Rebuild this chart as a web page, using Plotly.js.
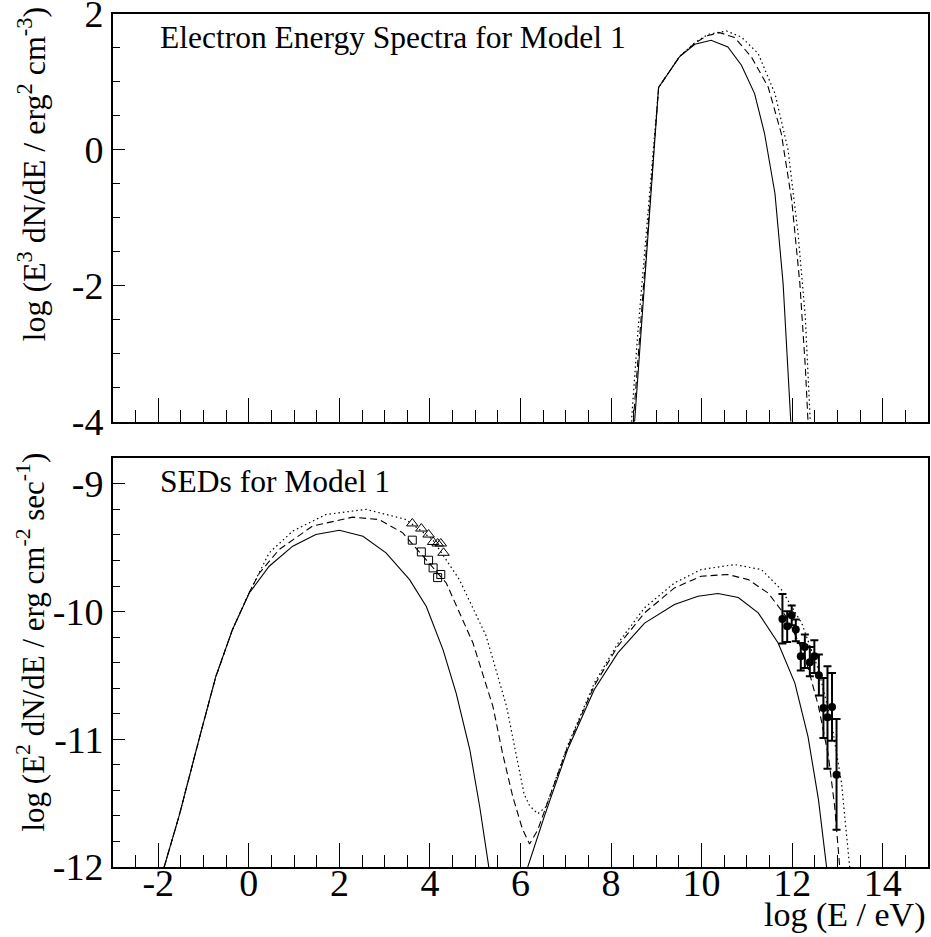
<!DOCTYPE html>
<html>
<head>
<meta charset="utf-8">
<script src="https://cdn.plot.ly/plotly-3.0.1.min.js"></script>
<style>html,body{margin:0;padding:0;background:#fff;}#chart{width:931px;height:937px;}</style>
</head>
<body>
<div id="chart"></div>
<script>
// ---------- Top panel: electron energy spectra (log E / eV, log E^3 dN/dE) ----------
const eSolidX  = [8.52, 9.05, 9.51, 9.85, 10.21, 10.58, 10.88, 11.17, 11.39, 11.62, 11.80, 11.91, 11.97];
const eSolidY  = [-4.0, 0.918, 1.368, 1.554, 1.613, 1.515, 1.246, 0.829, 0.241, -0.641, -1.965, -3.19, -4.0];
const eDashX   = [8.49, 9.05, 9.51, 9.85, 10.12, 10.40, 10.73, 11.10, 11.47, 11.76, 11.99, 12.17, 12.29, 12.35];
const eDashY   = [-4.0, 0.918, 1.37, 1.57, 1.68, 1.726, 1.653, 1.368, 0.926, 0.241, -0.74, -1.965, -3.19, -4.0];
const eDotX    = [8.45, 8.59, 9.05, 9.51, 9.85, 10.14, 10.55, 10.88, 11.25, 11.62, 11.91, 12.13, 12.29, 12.40];
const eDotY    = [-4.0, -2.70, 0.918, 1.375, 1.58, 1.70, 1.75, 1.66, 1.418, 0.829, 0.0, -1.23, -2.456, -4.0];

// ---------- Bottom panel: SEDs (log E / eV, log E^2 dN/dE) ----------
const syncSolidX = [-1.87, -1.54, -1.10, -0.73, -0.36, 0.01, 0.45, 0.97, 1.48, 2.0, 2.52, 3.03, 3.55, 3.92, 4.29, 4.58, 4.88, 5.10, 5.30];
const syncSolidY = [-12.0, -11.60, -11.0, -10.51, -10.14, -9.855, -9.645, -9.488, -9.397, -9.363, -9.41, -9.54, -9.75, -9.96, -10.30, -10.64, -11.08, -11.53, -12.0];
const icSolidX   = [6.16, 6.53, 7.04, 7.63, 8.15, 8.74, 9.40, 9.92, 10.36, 10.81, 11.25, 11.69, 12.06, 12.35, 12.58, 12.76];
const icSolidY   = [-12.0, -11.60, -11.08, -10.61, -10.324, -10.09, -9.945, -9.88, -9.859, -9.89, -10.01, -10.246, -10.56, -10.98, -11.47, -12.0];
const sedDashX = [-1.87, -1.54, -1.10, -0.73, -0.36, 0.01, 0.23, 0.67, 1.41, 2.29, 2.88, 3.40, 4.36, 4.95, 5.39, 5.61, 5.83, 6.04, 6.20, 6.38, 7.04, 7.63, 8.15, 8.74, 9.40, 9.99, 10.58, 11.03, 11.47, 11.91, 12.28, 12.58, 12.80, 12.94, 13.05];
const sedDashY = [-12.0, -11.60, -11.0, -10.51, -10.14, -9.85, -9.70, -9.514, -9.33, -9.261, -9.28, -9.384, -9.776, -10.246, -10.742, -11.12, -11.45, -11.70, -11.82, -11.71, -11.06, -10.58, -10.27, -10.01, -9.815, -9.723, -9.71, -9.75, -9.855, -10.06, -10.35, -10.74, -11.13, -11.53, -12.0];
const sedDotX  = [-1.87, -1.54, -1.10, -0.73, -0.36, 0.01, 0.45, 0.97, 1.70, 2.59, 3.47, 4.06, 4.65, 5.24, 5.69, 5.94, 6.08, 6.20, 6.38, 6.56, 7.04, 7.63, 8.15, 8.74, 9.40, 9.99, 10.73, 11.32, 11.76, 12.21, 12.58, 12.87, 13.09, 13.27];
const sedDotY  = [-12.0, -11.60, -11.0, -10.51, -10.14, -9.85, -9.54, -9.37, -9.24, -9.20, -9.279, -9.436, -9.75, -10.19, -10.74, -11.165, -11.43, -11.52, -11.583, -11.53, -11.05, -10.56, -10.25, -9.97, -9.776, -9.671, -9.632, -9.671, -9.828, -10.09, -10.455, -10.87, -11.343, -12.0];

// observed data
const triX = [3.61, 3.81, 3.97, 4.07, 4.17, 4.24, 4.30];
const triY = [-9.31, -9.35, -9.397, -9.455, -9.467, -9.467, -9.54];
const sqX  = [3.61, 3.81, 3.97, 4.07, 4.17, 4.24];
const sqY  = [-9.441, -9.533, -9.598, -9.658, -9.734, -9.71];
const tevX     = [11.785, 11.89, 11.99, 12.08, 12.19, 12.28, 12.39, 12.49, 12.59, 12.69, 12.78, 12.88, 12.98];
const tevY     = [-10.058, -10.115, -10.029, -10.141, -10.35, -10.277, -10.397, -10.35, -10.499, -10.755, -10.828, -10.748, -11.277];
const tevUpper = [-9.862, -9.998, -9.953, -10.063, -10.246, -10.18, -10.277, -10.225, -10.337, -10.52, -10.429, -10.481, -10.842];
const tevLower = [-10.251, -10.238, -10.107, -10.233, -10.462, -10.442, -10.507, -10.481, -10.658, -10.99, -11.23, -11.011, -11.708];

// ticks
const xTickVals = [-2, 0, 2, 4, 6, 8, 10, 12, 14];
const xTickText = ['-2', '0', '2', '4', '6', '8', '10', '12', '14'];
const yTopTickVals = [-4, -2, 0, 2];
const yTopTickText = ['-4', '-2', '0', '2'];
const yBotTickVals = [-12, -11, -10, -9];
const yBotTickText = ['-12', '-11', '-10', '-9'];

// ---------- build ----------
const FONT = 'Liberation Serif, Times New Roman, serif';
const solid = {color: 'black', width: 1.1, dash: 'solid'};
const dashed = {color: 'black', width: 1.1, dash: '7px,4px'};
const dotted = {color: 'black', width: 1.2, dash: '1.5px,3px'};

function line(x, y, ln, xa, ya) {
  return {x: x, y: y, type: 'scatter', mode: 'lines', line: ln, xaxis: xa, yaxis: ya, hoverinfo: 'skip'};
}

const traces = [
  line(eSolidX, eSolidY, solid, 'x2', 'y2'),
  line(eDashX, eDashY, dashed, 'x2', 'y2'),
  line(eDotX, eDotY, dotted, 'x2', 'y2'),
  line(syncSolidX, syncSolidY, solid, 'x', 'y'),
  line(icSolidX, icSolidY, solid, 'x', 'y'),
  line(sedDashX, sedDashY, dashed, 'x', 'y'),
  line(sedDotX, sedDotY, dotted, 'x', 'y'),
  {x: triX, y: triY, type: 'scatter', mode: 'markers', xaxis: 'x', yaxis: 'y',
   marker: {symbol: 'triangle-up-open', size: 10, color: 'black', line: {width: 1, color: 'black'}}},
  {x: sqX, y: sqY, type: 'scatter', mode: 'markers', xaxis: 'x', yaxis: 'y',
   marker: {symbol: 'square-open', size: 8, color: 'black', line: {width: 1, color: 'black'}}},
  {x: tevX, y: tevY, type: 'scatter', mode: 'markers', xaxis: 'x', yaxis: 'y',
   marker: {symbol: 'circle', size: 8, color: 'black'},
   error_y: {type: 'data', symmetric: false,
             array: tevUpper.map((u, i) => u - tevY[i]),
             arrayminus: tevLower.map((l, i) => tevY[i] - l),
             color: 'black', thickness: 2, width: 4}}
];

const W = 931, H = 937;
const L = 113, R = 3, T = 14, B = 70;
const plotH = H - T - B;
const py = p => (H - B - p) / plotH;        // page pixel y -> paper y
const px = p => (p - L) / (W - L - R);      // page pixel x -> paper x

const axCommon = {
  showline: true, linecolor: 'black', linewidth: 2, mirror: true,
  ticks: 'inside', tickcolor: 'black', tickwidth: 1,
  showgrid: false, zeroline: false,
  tickfont: {family: FONT, size: 38, color: 'black'},
  tickmode: 'array', ticklabeloverflow: 'allow'
};

const layout = {
  width: W, height: H,
  margin: {l: L, r: R, t: T, b: B, pad: 0},
  paper_bgcolor: 'white', plot_bgcolor: 'white',
  showlegend: false,
  font: {family: FONT, color: 'black'},
  xaxis: Object.assign({}, axCommon, {
    anchor: 'y', range: [-3, 15], tickvals: xTickVals, ticktext: xTickText, ticklen: 24, ticklabelstandoff: -19,
    minor: {tickmode: 'linear', tick0: 0, dtick: 0.5, ticklen: 12, ticks: 'inside', tickcolor: 'black', tickwidth: 1}
  }),
  xaxis2: Object.assign({}, axCommon, {
    anchor: 'y2', range: [-3, 15], tickvals: xTickVals, ticktext: xTickText, ticklen: 24, showticklabels: false,
    minor: {tickmode: 'linear', tick0: 0, dtick: 0.5, ticklen: 12, ticks: 'inside', tickcolor: 'black', tickwidth: 1}
  }),
  yaxis: Object.assign({}, axCommon, {
    anchor: 'x', domain: [0, py(458.3)], range: [-12, -8.8], tickvals: yBotTickVals, ticktext: yBotTickText, ticklen: 12,
    minor: {tickmode: 'linear', tick0: 0, dtick: 0.2, ticklen: 7, ticks: 'inside', tickcolor: 'black', tickwidth: 1}
  }),
  yaxis2: Object.assign({}, axCommon, {
    anchor: 'x2', domain: [py(421.7), 1], range: [-4, 2], tickvals: yTopTickVals, ticktext: yTopTickText, ticklen: 12,
    minor: {tickmode: 'linear', tick0: 0, dtick: 0.5, ticklen: 7, ticks: 'inside', tickcolor: 'black', tickwidth: 1}
  }),
  annotations: [
    {xref: 'paper', yref: 'paper', x: px(158), y: py(38), xanchor: 'left', yanchor: 'middle', showarrow: false,
     text: 'Electron Energy Spectra for Model 1', font: {family: FONT, size: 31.5, color: 'black'}},
    {xref: 'paper', yref: 'paper', x: px(158), y: py(481), xanchor: 'left', yanchor: 'middle', showarrow: false,
     text: 'SEDs for Model 1', font: {family: FONT, size: 31.5, color: 'black'}},
    {xref: 'paper', yref: 'paper', x: 0, xshift: -82, y: py(5), xanchor: 'center', yanchor: 'top', showarrow: false,
     textangle: -90, text: 'log (E<sup>3</sup> dN/dE / erg<sup>2</sup> cm<sup>-3</sup>)', font: {family: FONT, size: 32, color: 'black'}},
    {xref: 'paper', yref: 'paper', x: 0, xshift: -82, y: py(451), xanchor: 'center', yanchor: 'top', showarrow: false,
     textangle: -90, text: 'log (E<sup>2</sup> dN/dE / erg cm<sup>-2</sup> sec<sup>-1</sup>)', font: {family: FONT, size: 31, color: 'black'}},
    {xref: 'paper', yref: 'paper', x: 1, xshift: -1, y: py(915), xanchor: 'right', yanchor: 'middle', showarrow: false,
     text: 'log (E / eV)', font: {family: FONT, size: 34, color: 'black'}}
  ]
};

Plotly.newPlot('chart', traces, layout, {staticPlot: true, displayModeBar: false});
</script>
</body>
</html>
